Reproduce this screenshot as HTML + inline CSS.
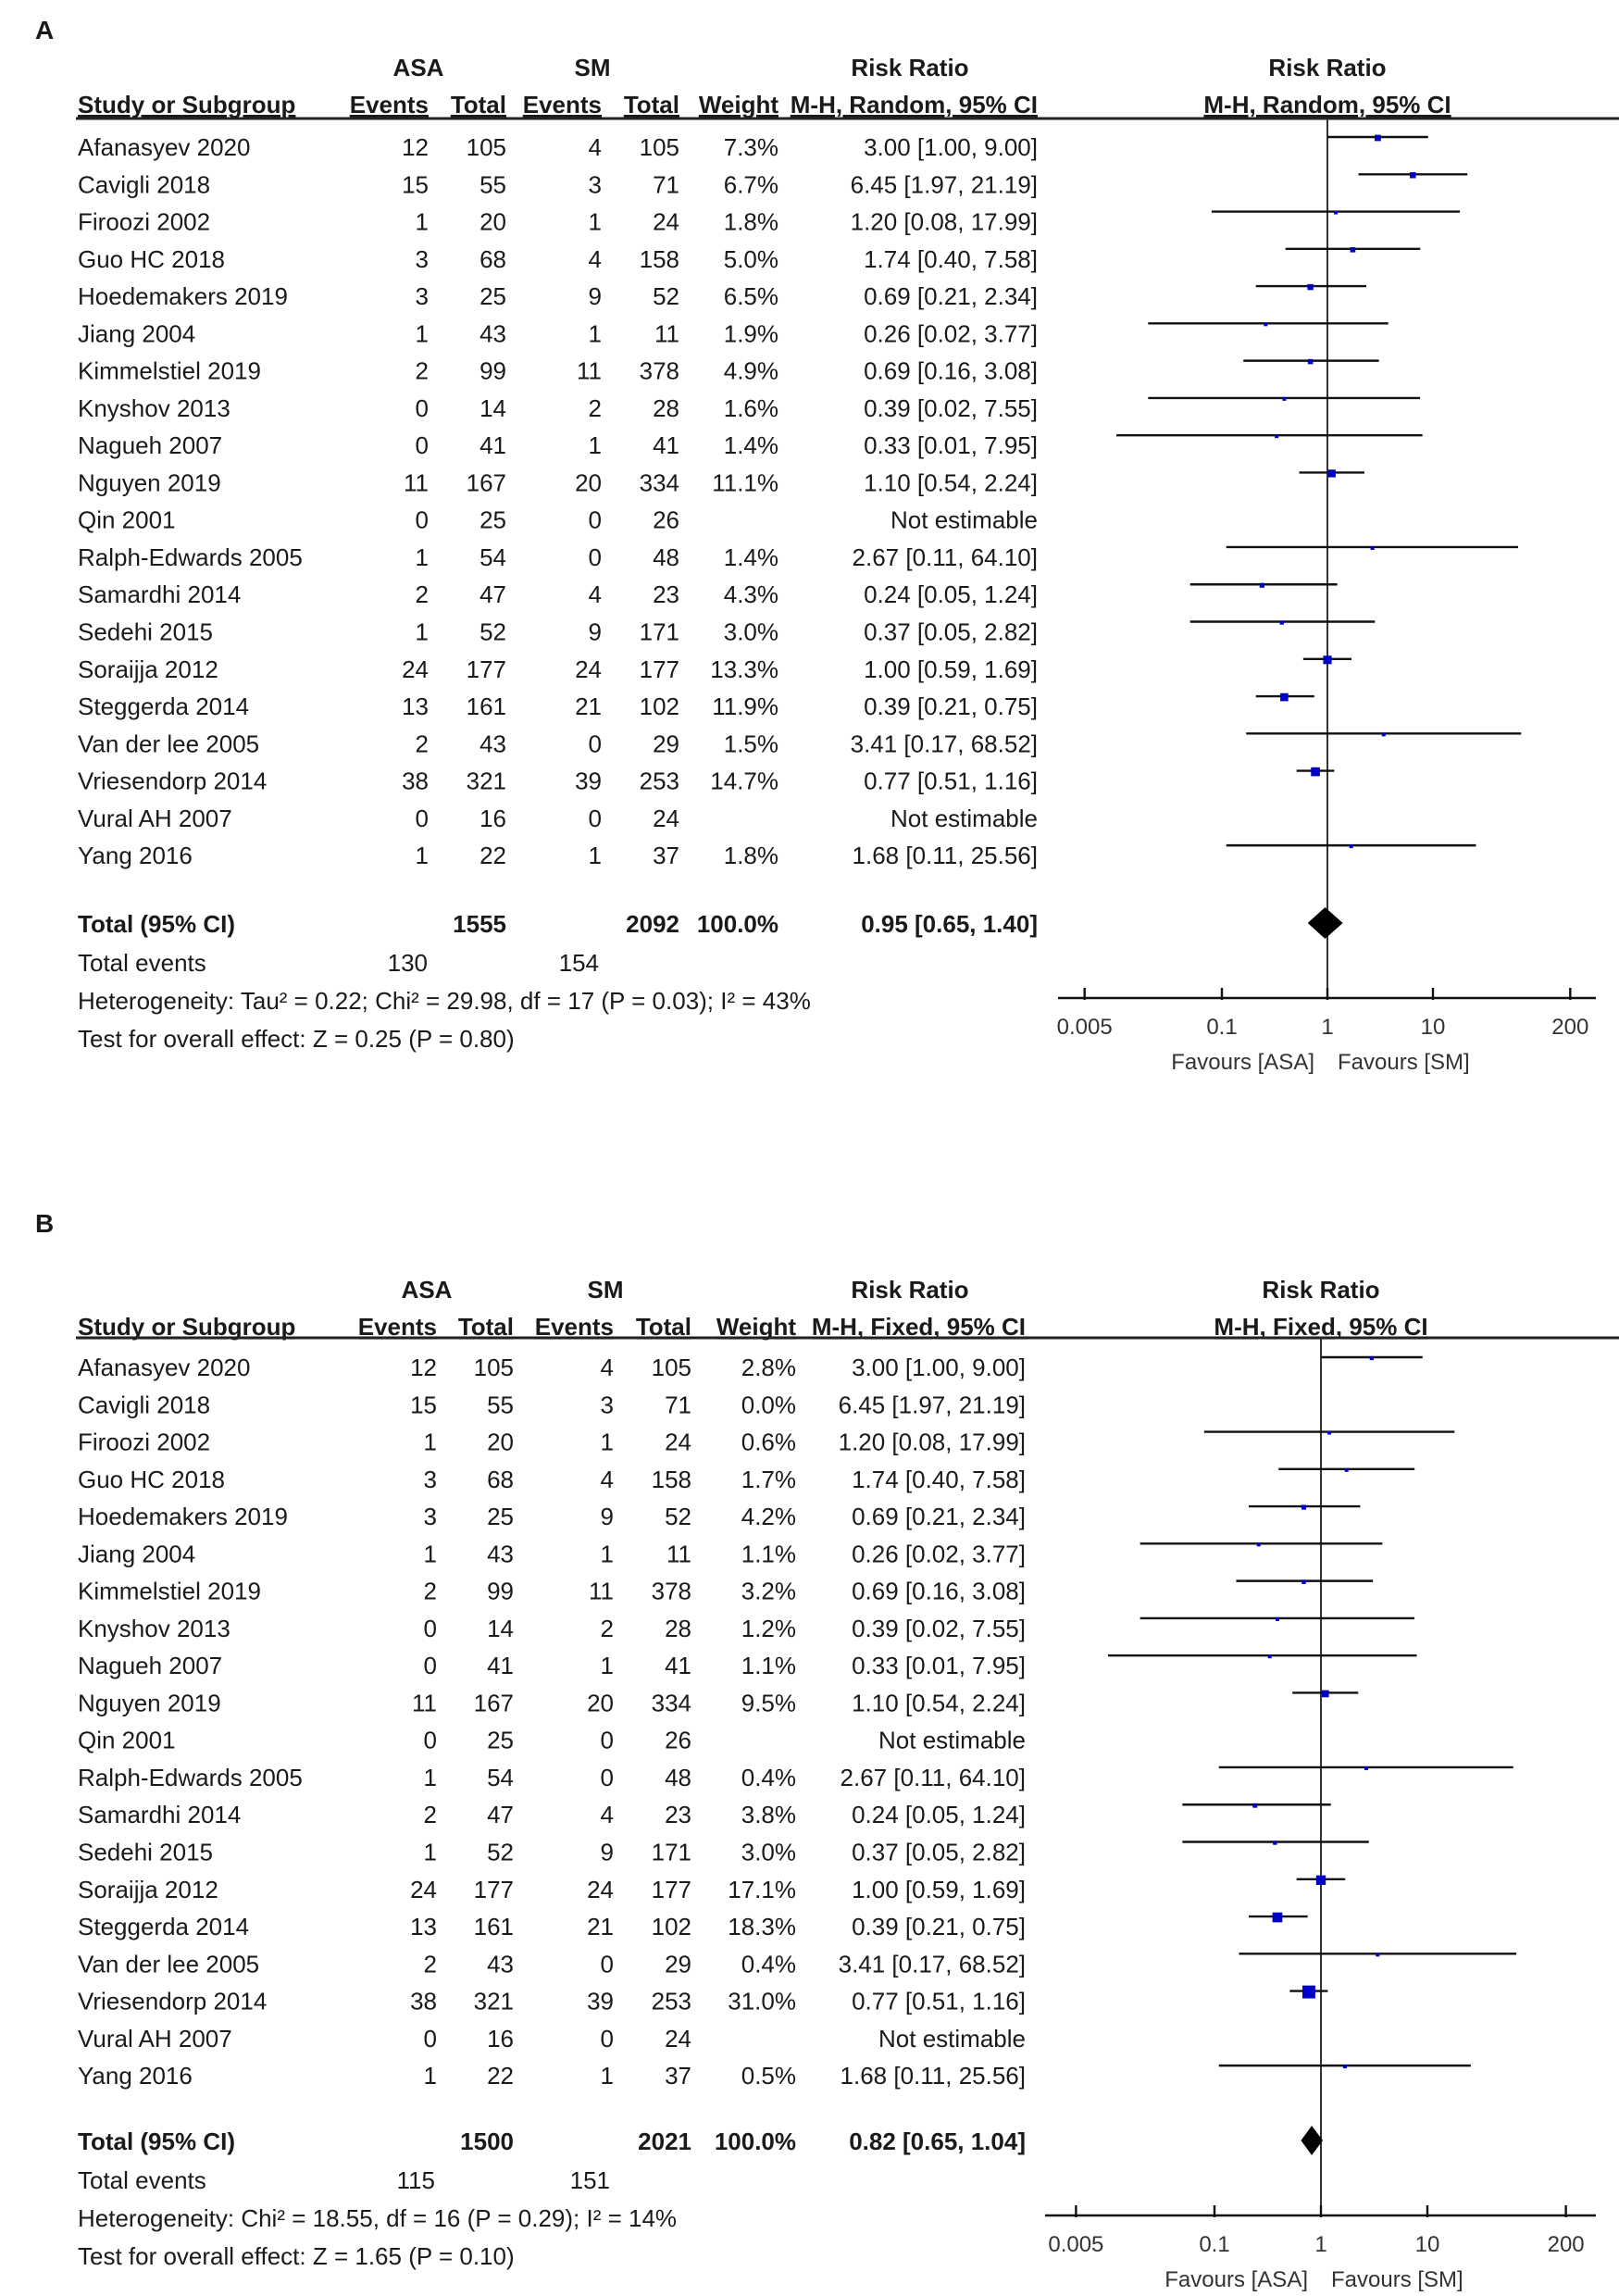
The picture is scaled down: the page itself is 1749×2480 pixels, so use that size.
<!DOCTYPE html>
<html><head><meta charset="utf-8"><style>
html,body{margin:0;padding:0;background:#fff;}
svg{display:block;}
.t{font-family:"Liberation Sans Narrow","Liberation Sans",sans-serif;font-size:26px;fill:#1a1a1a;}
.b{font-weight:bold;}
.ax{font-family:"Liberation Sans",sans-serif;font-size:24px;fill:#333;}
</style></head><body>
<svg id="fig" width="1749" height="2480" viewBox="0 0 1749 2480" xmlns="http://www.w3.org/2000/svg"></svg>
<script>
const studies = ["Afanasyev 2020","Cavigli 2018","Firoozi 2002","Guo HC 2018","Hoedemakers 2019","Jiang 2004","Kimmelstiel 2019","Knyshov 2013","Nagueh 2007","Nguyen 2019","Qin 2001","Ralph-Edwards 2005","Samardhi 2014","Sedehi 2015","Soraijja 2012","Steggerda 2014","Van der lee 2005","Vriesendorp 2014","Vural AH 2007","Yang 2016"];
const asaEvents = [12,15,1,3,3,1,2,0,0,11,0,1,2,1,24,13,2,38,0,1];
const asaTotal = [105,55,20,68,25,43,99,14,41,167,25,54,47,52,177,161,43,321,16,22];
const smEvents = [4,3,1,4,9,1,11,2,1,20,0,0,4,9,24,21,0,39,0,1];
const smTotal = [105,71,24,158,52,11,378,28,41,334,26,48,23,171,177,102,29,253,24,37];
const rr = [3.00,6.45,1.20,1.74,0.69,0.26,0.69,0.39,0.33,1.10,null,2.67,0.24,0.37,1.00,0.39,3.41,0.77,null,1.68];
const lo = [1.00,1.97,0.08,0.40,0.21,0.02,0.16,0.02,0.01,0.54,null,0.11,0.05,0.05,0.59,0.21,0.17,0.51,null,0.11];
const hi = [9.00,21.19,17.99,7.58,2.34,3.77,3.08,7.55,7.95,2.24,null,64.10,1.24,2.82,1.69,0.75,68.52,1.16,null,25.56];
const weightA = [7.3,6.7,1.8,5.0,6.5,1.9,4.9,1.6,1.4,11.1,null,1.4,4.3,3.0,13.3,11.9,1.5,14.7,null,1.8];
const weightB = [2.8,0.0,0.6,1.7,4.2,1.1,3.2,1.2,1.1,9.5,null,0.4,3.8,3.0,17.1,18.3,0.4,31.0,null,0.5];
const ticks = [0.005,0.1,1,10,200];
const tickLabels = ["0.005","0.1","1","10","200"];
const totalA = {rr:0.95, lo:0.65, hi:1.40};
const totalB = {rr:0.82, lo:0.65, hi:1.04};

const NS="http://www.w3.org/2000/svg";
const svg=document.getElementById('fig');
function mk(tag,attrs,parent){const e=document.createElementNS(NS,tag);for(const k in attrs)e.setAttribute(k,attrs[k]);(parent||svg).appendChild(e);return e;}
function txt(s,x,y,anchor,cls,parent){const e=mk('text',{x:x,y:y,'text-anchor':anchor||'start','class':cls||'t'},parent);e.textContent=s;return e;}
function f2(v){return v.toFixed(2);}

function panel(cfg){
  const g=mk('g',{});
  
  
  const X=v=>cfg.zero+cfg.dec*Math.log10(v);
  const L=i=>cfg.row0+40.27*i;
  const c=cfg.cols;
  let e=txt(cfg.letter,38,cfg.letterY,'start','t b',g);e.style.fontSize='28px';
  e=txt('ASA',c.asaC,cfg.h1,'middle','t b',g);
  e=txt('SM',c.smC,cfg.h1,'middle','t b',g);
  e=txt('Risk Ratio',983,cfg.h1,'middle','t b',g);
  e=txt('Risk Ratio',cfg.zero,cfg.h1,'middle','t b',g);
  const h2=[['Study or Subgroup',84,'start'],['Events',c.e1,'end'],['Total',c.t1,'end'],['Events',c.e2,'end'],['Total',c.t2,'end'],['Weight',c.w,'end'],[cfg.method,c.ci,'end'],[cfg.method,cfg.zero,'middle']];
  h2.forEach(h=>{const t=txt(h[0],h[1],cfg.h2,h[2],'t b',g);t.setAttribute('text-decoration','underline');});
  e=mk('line',{x1:82,y1:cfg.hl,x2:1749,y2:cfg.hl,stroke:'#222','stroke-width':3},g);
  e=mk('line',{x1:cfg.zero,y1:cfg.hl,x2:cfg.zero,y2:cfg.axisY,stroke:'#333','stroke-width':2},g);
  studies.forEach((s,i)=>{
    const y=L(i),b=y+20;
    const w=cfg.weights[i];
    e=txt(s,84,b,'start','t',g);
    txt(String(asaEvents[i]),c.e1,b,'end','t',g);
    txt(String(asaTotal[i]),c.t1,b,'end','t',g);
    txt(String(smEvents[i]),c.e2,b,'end','t',g);
    txt(String(smTotal[i]),c.t2,b,'end','t',g);
    if(rr[i]===null){
      e=txt('Not estimable',c.ci,b,'end','t',g);
      return;
    }
    txt(w.toFixed(1)+'%',c.w,b,'end','t',g);
    e=txt(f2(rr[i])+' ['+f2(lo[i])+', '+f2(hi[i])+']',c.ci,b,'end','t',g);
    if(w===0) return;
    e=mk('line',{x1:X(lo[i]),y1:y,x2:X(hi[i]),y2:y,stroke:'#111','stroke-width':2.4},g);
    
    
    const sz=Math.max(4,2.5*Math.sqrt(w));
    e=mk('rect',{x:X(rr[i])-sz/2,y:y+1-sz/2,width:sz,height:sz,fill:'#0000c8'},g);
    
    
  });
  const tb=cfg.totY+10;
  txt('Total (95% CI)',84,tb,'start','t b',g);
  txt(String(cfg.sumA),c.t1,tb,'end','t b',g);
  txt(String(cfg.sumS),c.t2,tb,'end','t b',g);
  txt('100.0%',c.w,tb,'end','t b',g);
  const T=cfg.total;
  txt(f2(T.rr)+' ['+f2(T.lo)+', '+f2(T.hi)+']',c.ci,tb,'end','t b',g);
  const dy=cfg.diaH;
  e=mk('polygon',{points:[X(T.lo)+','+cfg.totY,X(T.rr)+','+(cfg.totY-dy),X(T.hi)+','+cfg.totY,X(T.rr)+','+(cfg.totY+dy)].join(' '),fill:'#000'},g);
  
  
  txt('Total events',84,cfg.totY+52,'start','t',g);
  txt(String(cfg.evA),c.evA,cfg.totY+52,'end','t',g);
  txt(String(cfg.evS),c.evS,cfg.totY+52,'end','t',g);
  txt(cfg.het,84,cfg.totY+93,'start','t',g);
  txt(cfg.test,84,cfg.totY+134,'start','t',g);
  e=mk('line',{x1:cfg.axL,y1:cfg.axisY,x2:1724,y2:cfg.axisY,stroke:'#111','stroke-width':2.4},g);
  ticks.forEach((t,k)=>{
    const tl=mk('line',{x1:X(t),y1:cfg.axisY-11,x2:X(t),y2:cfg.axisY+2,stroke:'#111','stroke-width':2.4},g);
    
    
    const tt=txt(tickLabels[k],X(t),cfg.axisY+39,'middle','ax',g);
    
    
  });
  txt('Favours [ASA]',cfg.zero-14,cfg.axisY+77,'end','ax',g);
  txt('Favours [SM]',cfg.zero+11,cfg.axisY+77,'start','ax',g);
}

panel({name:'panel-a-random-effects',letter:'A',letterY:42,h1:82,h2:122,hl:128,row0:148,zero:1434,dec:114,axisY:1078,axL:1143,
  method:'M-H, Random, 95% CI',weights:weightA,total:totalA,totY:997,diaH:17,sumA:1555,sumS:2092,evA:130,evS:154,
  cols:{asaC:452,smC:640,e1:463,t1:547,e2:650,t2:734,w:841,ci:1121,evA:462,evS:647},
  het:'Heterogeneity: Tau² = 0.22; Chi² = 29.98, df = 17 (P = 0.03); I² = 43%',test:'Test for overall effect: Z = 0.25 (P = 0.80)'});
panel({name:'panel-b-fixed-effects',letter:'B',letterY:1331,h1:1402,h2:1442,hl:1445,row0:1466,zero:1427,dec:115,axisY:2393,axL:1129,
  method:'M-H, Fixed, 95% CI',weights:weightB,total:totalB,totY:2312,diaH:16,sumA:1500,sumS:2021,evA:115,evS:151,
  cols:{asaC:461,smC:654,e1:472,t1:555,e2:663,t2:747,w:860,ci:1108,evA:470,evS:659},
  het:'Heterogeneity: Chi² = 18.55, df = 16 (P = 0.29); I² = 14%',test:'Test for overall effect: Z = 1.65 (P = 0.10)'});
</script>
</body></html>
